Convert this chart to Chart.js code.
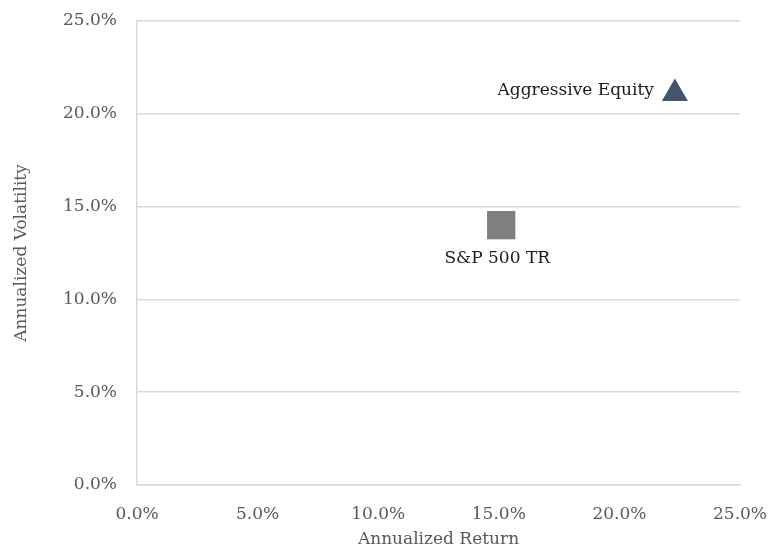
<!DOCTYPE html>
<html><head><meta charset="utf-8">
<script src="https://cdn.jsdelivr.net/npm/chart.js@4"></script>
<style>html,body{margin:0;padding:0;background:#fff}#wrap{width:772px;height:550px}</style>
</head><body><div id="wrap"><canvas id="c" width="772" height="550"></canvas></div>
<script>
const seriesNames = ["Aggressive Equity", "S&P 500 TR"];
const returns = [22.3, 15.1];
const volatility = [21.1, 14.0];
const xTicks = [0, 5, 10, 15, 20, 25];
const yTicks = [0, 5, 10, 15, 20, 25];

const FONT = "'DejaVu Serif', serif";
const labelPlugin = {
  id: 'labels',
  afterDatasetsDraw(chart) {
    const ctx = chart.ctx;
    ctx.save();
    ctx.font = "17px " + FONT;
    ctx.fillStyle = "#1a1a1a";
    const m0 = chart.getDatasetMeta(0).data[0];
    ctx.textAlign = "right"; ctx.textBaseline = "middle";
    ctx.fillText(seriesNames[0], m0.x - 21, m0.y - 3);
    const m1 = chart.getDatasetMeta(1).data[0];
    ctx.textAlign = "center"; ctx.textBaseline = "middle";
    ctx.fillText(seriesNames[1], m1.x - 4, m1.y + 33);
    ctx.restore();
  }
};

new Chart(document.getElementById('c'), {
  type: 'scatter',
  data: {
    datasets: [
      { label: seriesNames[0], data: [{x: returns[0], y: volatility[0]}], pointStyle: 'triangle', radius: 15, backgroundColor: '#44546A', borderColor: '#44546A', borderWidth: 0 },
      { label: seriesNames[1], data: [{x: returns[1], y: volatility[1]}], pointStyle: 'rect', radius: 20, backgroundColor: '#7F7F7F', borderColor: '#7F7F7F', borderWidth: 0 }
    ]
  },
  options: {
    responsive: false, animation: false, devicePixelRatio: 1,
    layout: { padding: { left: 11, right: 0, top: 21, bottom: 0 } },
    plugins: { legend: { display: false }, tooltip: { enabled: false } },
    scales: {
      x: {
        min: 0, max: 25,
        afterBuildTicks: s => { s.ticks = xTicks.map(v => ({ value: v })); },
        afterFit: s => { s.height = 65; s.paddingRight = 32; s.paddingLeft = 0; },
        grid: { display: false, drawTicks: false },
        border: { display: true, color: '#D9D9D9', width: 1.5 },
        ticks: { padding: 19, color: '#595959', font: { family: FONT, size: 17 }, callback: v => v.toFixed(1) + '%' },
        title: { display: true, text: 'Annualized Return', color: '#595959', font: { family: FONT, size: 17 }, padding: { top: 6, bottom: 0 } }
      },
      y: {
        min: 0, max: 25,
        afterBuildTicks: s => { s.ticks = yTicks.map(v => ({ value: v })); },
        afterFit: s => { s.width = 126; s.paddingTop = 0; s.paddingBottom = 0; },
        grid: { color: '#D9D9D9', lineWidth: 1.5, drawTicks: false },
        border: { display: true, color: '#D9D9D9', width: 1.5 },
        ticks: { padding: 20, color: '#595959', font: { family: FONT, size: 17 }, callback: v => v.toFixed(1) + '%' },
        title: { display: true, text: 'Annualized Volatility', color: '#595959', font: { family: FONT, size: 17 }, padding: { top: 0, bottom: 0 } }
      }
    }
  },
  plugins: [labelPlugin]
});
</script></body></html>
